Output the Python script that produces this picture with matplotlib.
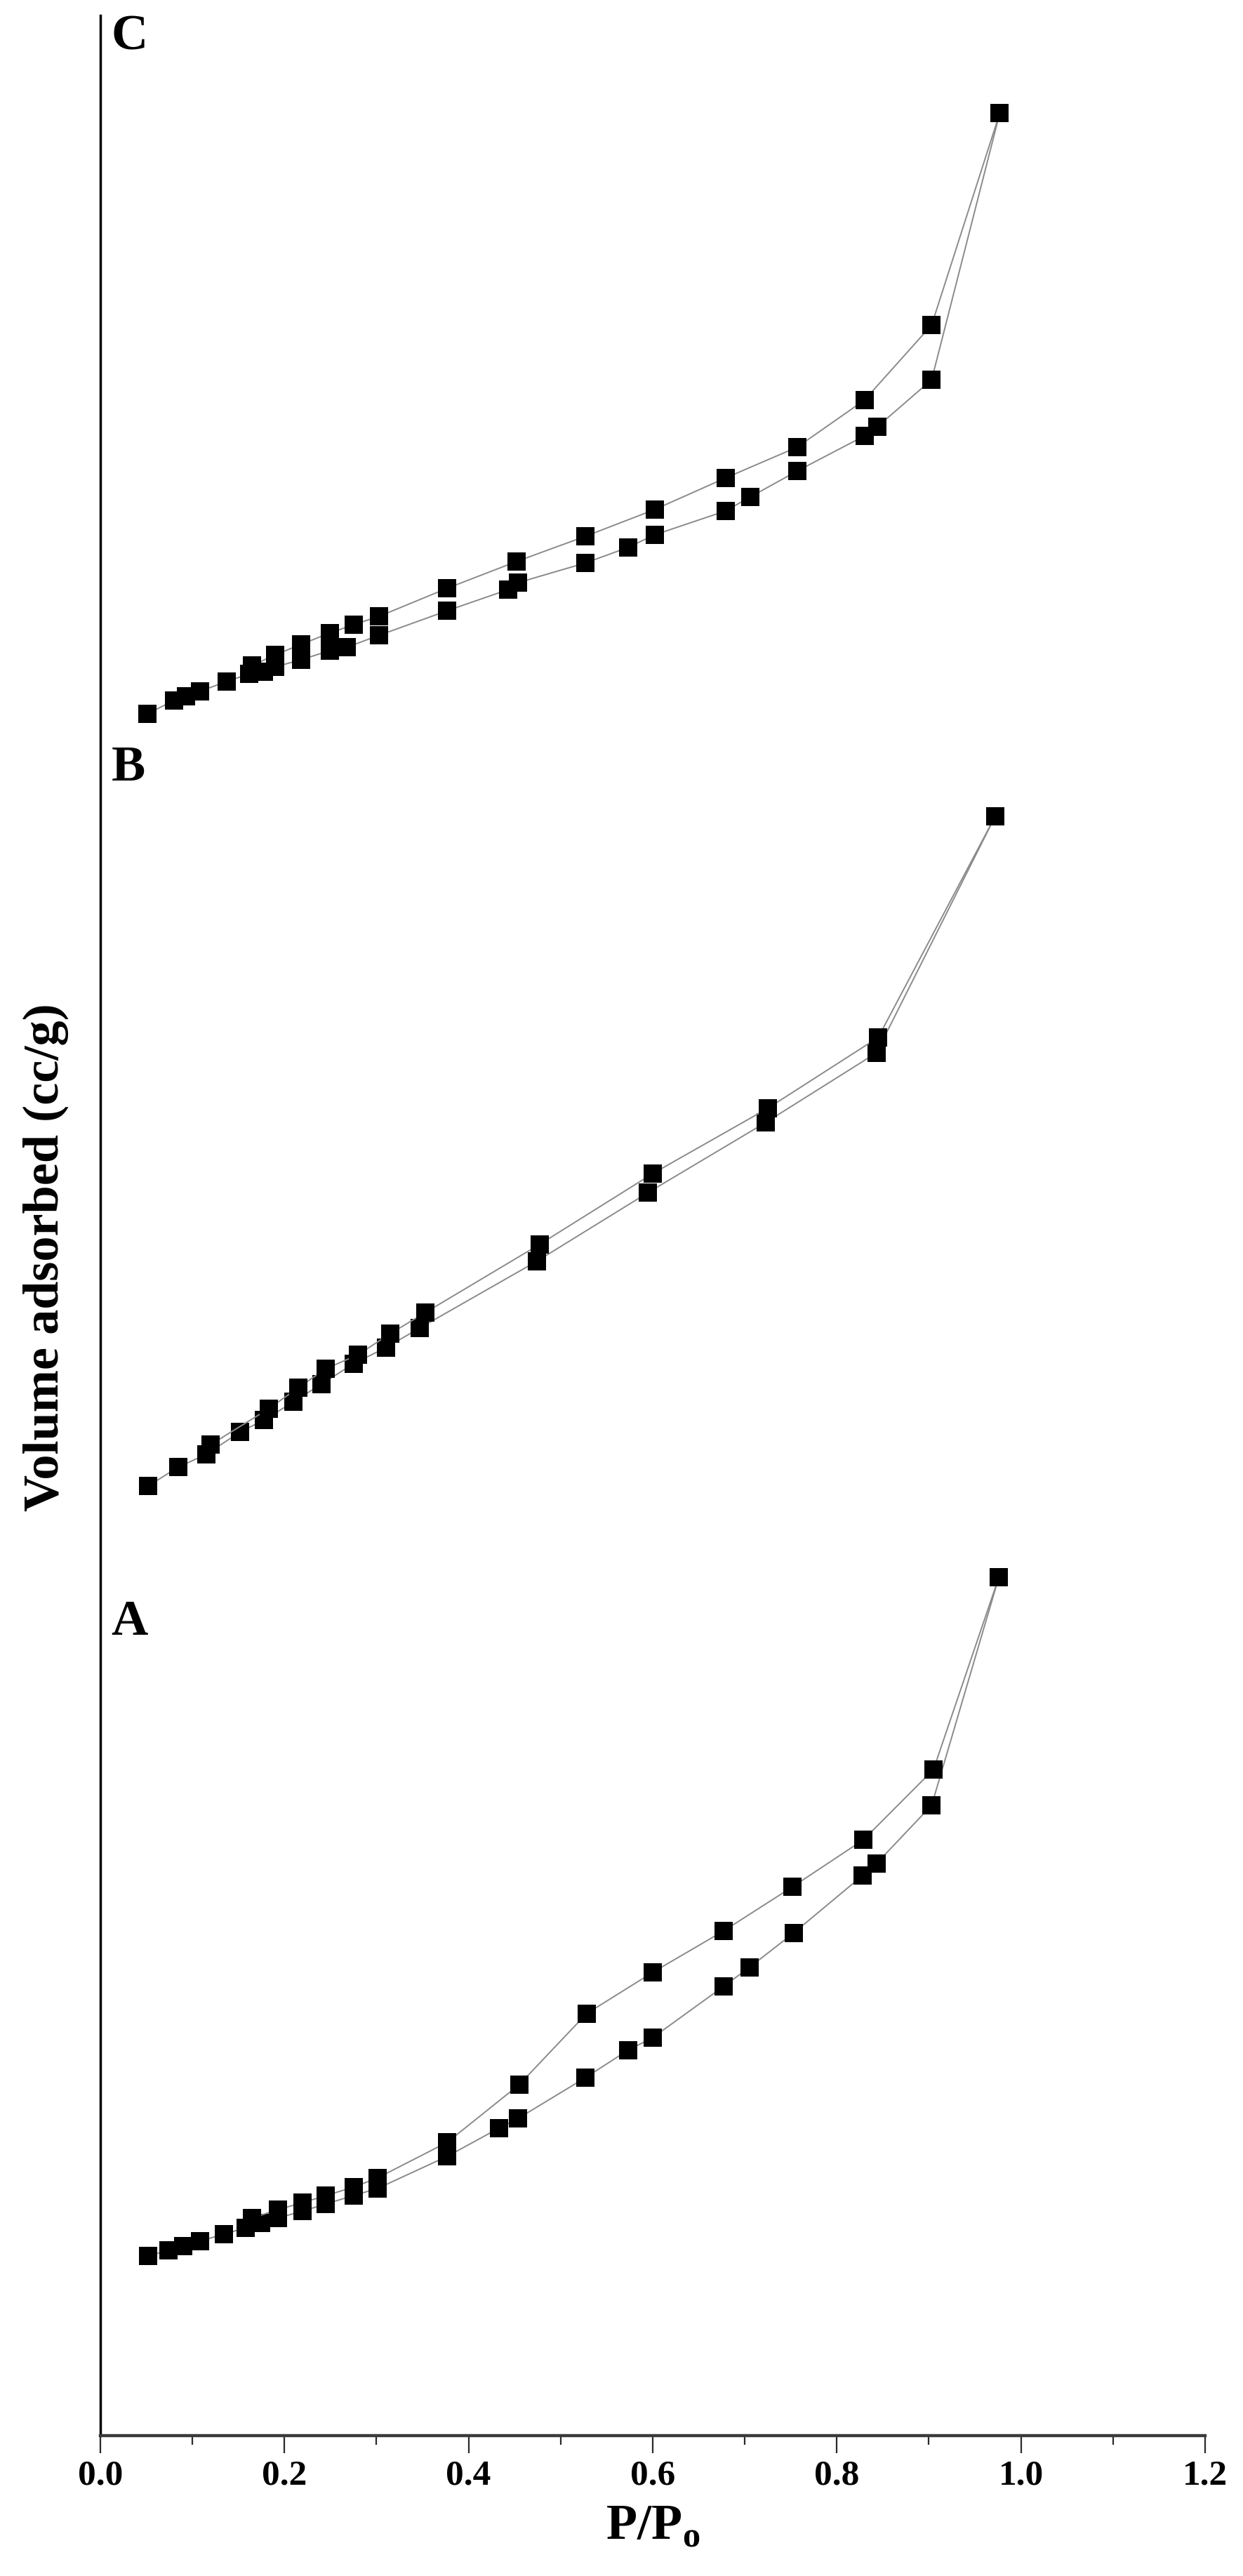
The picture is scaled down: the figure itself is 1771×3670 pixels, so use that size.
import numpy as np
import matplotlib
matplotlib.use("Agg")
import matplotlib.pyplot as plt

plt.rcParams['font.family'] = ['Liberation Serif', 'DejaVu Serif']
plt.rcParams['font.weight'] = 'bold'
plt.rcParams['mathtext.fontset'] = 'custom'
plt.rcParams['mathtext.rm'] = 'Liberation Serif:bold'
plt.rcParams['mathtext.bf'] = 'Liberation Serif:bold'

# sample C
c_ads_p = [0.051, 0.080, 0.093, 0.108, 0.137, 0.162, 0.178, 0.190, 0.218, 0.249, 0.268, 0.303,
           0.377, 0.443, 0.454, 0.527, 0.573, 0.602, 0.679, 0.706, 0.757, 0.830, 0.844, 0.903, 0.977]
c_ads_v = [245.3, 247.2, 247.8, 248.5, 249.9, 251.0, 251.3, 252.0, 253.0, 254.3, 254.8, 256.5,
           260.0, 263.0, 264.0, 266.8, 269.0, 270.8, 274.2, 276.2, 279.9, 284.9, 286.2, 292.9, 330.9]
c_des_p = [0.977, 0.903, 0.830, 0.757, 0.679, 0.602, 0.527, 0.452, 0.377, 0.303, 0.275, 0.249,
           0.218, 0.190, 0.165]
c_des_v = [330.9, 300.7, 290.0, 283.3, 278.9, 274.4, 270.6, 267.0, 263.2, 259.2, 258.0, 256.8,
           255.2, 253.7, 252.2]

# sample B
b_ads_p = [0.052, 0.085, 0.115, 0.152, 0.178, 0.210, 0.240, 0.275, 0.310, 0.347, 0.474, 0.595,
           0.723, 0.843, 0.972]
b_ads_v = [135.3, 138.0, 139.8, 143.0, 144.7, 147.3, 149.8, 152.7, 155.0, 157.8, 167.3, 177.1,
           187.1, 197.0, 230.7]
b_des_p = [0.972, 0.845, 0.725, 0.600, 0.477, 0.353, 0.315, 0.280, 0.245, 0.215, 0.183, 0.120]
b_des_v = [230.7, 199.2, 189.1, 179.8, 169.7, 160.0, 157.0, 154.0, 152.0, 149.3, 146.3, 141.2]

# sample A
a_ads_p = [0.052, 0.074, 0.090, 0.108, 0.134, 0.158, 0.175, 0.193, 0.220, 0.245, 0.275, 0.301,
           0.377, 0.433, 0.454, 0.527, 0.573, 0.600, 0.677, 0.705, 0.753, 0.828, 0.843, 0.903, 0.976]
a_ads_v = [25.6, 26.4, 27.0, 27.7, 28.7, 29.6, 30.3, 31.0, 32.0, 33.0, 34.2, 35.2,
           39.8, 43.8, 45.2, 51.0, 54.9, 56.7, 64.0, 66.7, 71.6, 79.8, 81.5, 89.8, 122.3]
a_des_p = [0.976, 0.905, 0.829, 0.752, 0.677, 0.600, 0.528, 0.455, 0.377, 0.301, 0.275, 0.245,
           0.220, 0.193, 0.165]
a_des_v = [122.3, 94.9, 84.9, 78.2, 71.9, 66.0, 60.1, 50.0, 41.8, 36.7, 35.4, 34.2,
           33.2, 32.2, 31.0]

panel_labels = ['C', 'B', 'A']
label_y = [340.0, 235.8, 114.1]

fig = plt.figure(figsize=(17.71, 36.70), dpi=100)
ax = fig.add_axes([0.0807, 0.0545, 0.8888, 0.9395])

series = [(c_ads_p, c_ads_v), (c_des_p, c_des_v),
          (b_ads_p, b_ads_v), (b_des_p, b_des_v),
          (a_ads_p, a_ads_v), (a_des_p, a_des_v)]
for p, v in series:
    ax.plot(p, v, color='#8a8a8a', lw=1.4, marker='s', ms=19,
            mfc='black', mec='black', mew=0)

for lab, y in zip(panel_labels, label_y):
    ax.text(0.012, y, lab, fontsize=52, fontweight='bold', ha='left', va='baseline')

ax.set_xlim(0, 1.2)
ax.set_ylim(0, 344.8)
ax.set_xticks(np.arange(0, 1.21, 0.2))
ax.set_xticklabels(['%.1f' % t for t in np.arange(0, 1.21, 0.2)])
ax.set_xticks(np.arange(0.1, 1.2, 0.2), minor=True)
ax.set_yticks([])

for s in ['top', 'right']:
    ax.spines[s].set_visible(False)
ax.spines['left'].set_linewidth(2.5)
ax.spines['left'].set_color('black')
ax.spines['bottom'].set_linewidth(3.2)
ax.spines['bottom'].set_color('#3a3a3a')

ax.tick_params(axis='x', which='major', direction='out', length=18, width=1.6,
               labelsize=37, pad=7, color='#2a2a2a')
ax.tick_params(axis='x', which='minor', direction='out', length=9.5, width=1.6,
               color='#2a2a2a')
for t in ax.get_xticklabels():
    t.set_fontweight('bold')

ax.set_xlabel(r'P/P$_\mathrm{o}$', fontsize=52, fontweight='bold', labelpad=12)
ax.set_ylabel('Volume adsorbed (cc/g)', fontsize=52, fontweight='bold', va='center')
ax.yaxis.set_label_coords(-0.0496, 0.487)

fig.savefig('out.png', dpi=100)
